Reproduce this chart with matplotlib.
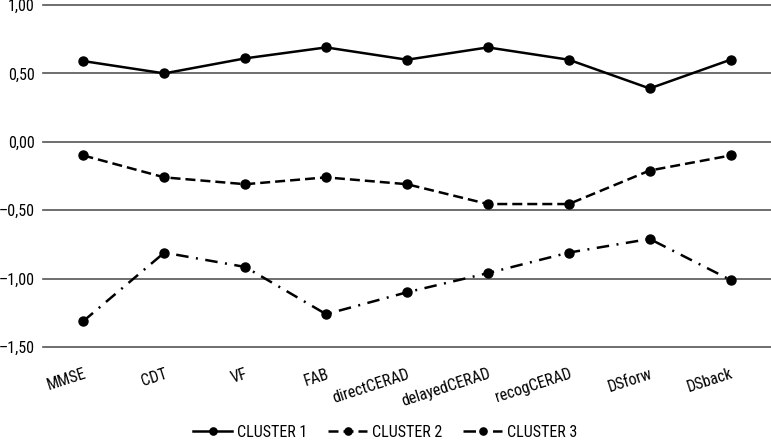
import matplotlib
matplotlib.use('Agg')
import matplotlib.pyplot as plt
from matplotlib import font_manager as fm

tests = ['MMSE', 'CDT', 'VF', 'FAB', 'directCERAD', 'delayedCERAD', 'recogCERAD', 'DSforw', 'DSback']
cluster1 = [0.59, 0.50, 0.61, 0.69, 0.60, 0.69, 0.60, 0.39, 0.60]
cluster2 = [-0.10, -0.26, -0.31, -0.26, -0.31, -0.455, -0.455, -0.21, -0.10]
cluster3 = [-1.31, -0.81, -0.915, -1.26, -1.10, -0.96, -0.81, -0.71, -1.01]
yticks = [1.0, 0.5, 0.0, -0.5, -1.0, -1.5]

# pick a condensed face if there is one
names = set(f.name for f in fm.fontManager.ttflist)
fam = 'DejaVu Sans'
for cand in ['Roboto Condensed', 'Liberation Sans Narrow', 'Archivo Narrow', 'PT Sans Narrow', 'Asap Condensed']:
    if cand in names:
        fam = cand
        break
plt.rcParams['font.family'] = [fam, 'DejaVu Sans']

fig = plt.figure(figsize=(7.71, 4.41), dpi=100)
ax = fig.add_axes([43/771, 1-347/441, 1-43/771, (347-5)/441])

x = list(range(len(tests)))
ax.plot(x, cluster1, color='black', lw=1.8, marker='o', ms=6.5, label='CLUSTER 1')
ax.plot(x, cluster2, color='black', lw=1.8, marker='o', ms=6.5, dashes=(4, 2), label='CLUSTER 2')
ax.plot(x, cluster3, color='black', lw=1.8, marker='o', ms=6.5, dashes=(5, 3, 0.8, 3), label='CLUSTER 3')

ax.set_xlim(-0.5, 8.5)
ax.set_ylim(-1.5, 1.0)
ax.set_yticks(yticks)
ax.set_yticklabels([('%.2f' % v).replace('.', ',').replace('-', '\u2013') for v in yticks])
for v in yticks:
    ax.axhline(v, color='#555555', lw=1.2, zorder=0, clip_on=False)
ax.set_xticks(x)
ax.set_xticklabels(tests, rotation=18, ha='right', rotation_mode='anchor')
ax.tick_params(length=0, labelsize=11.5, pad=6)
ax.tick_params(axis='x', pad=14)
for s in ax.spines.values():
    s.set_visible(False)

fig.legend(loc='lower center', bbox_to_anchor=(0.5, -0.03), ncol=3, frameon=False,
           fontsize=11.5, handlelength=2.4, columnspacing=1.3, handletextpad=0.35,
           markerscale=0.8)

fig.savefig('out.png', dpi=100)
